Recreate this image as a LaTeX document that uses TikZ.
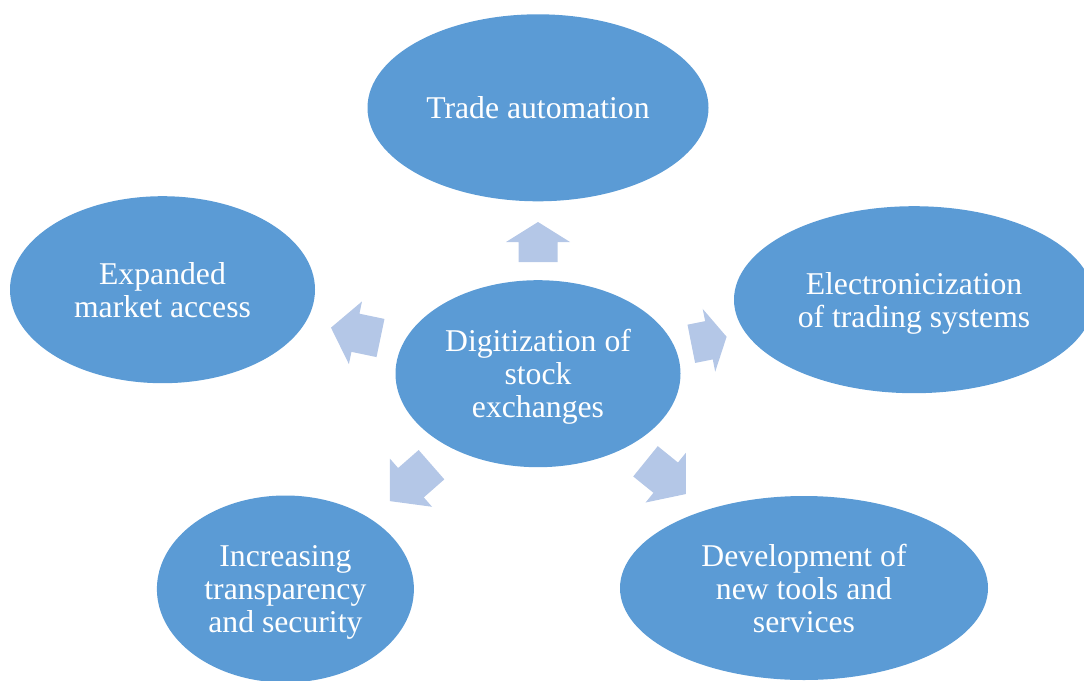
\documentclass[tikz,border=0pt]{standalone}
\usepackage{fontspec}
\setmainfont{Liberation Serif}
\usepackage{xcolor}
\usetikzlibrary{shapes.geometric}
\definecolor{bubble}{HTML}{5B9BD5}
\definecolor{pointer}{HTML}{B4C7E7}

\begin{document}
\begin{tikzpicture}[x=1pt, y=-1pt,
	every node/.style = {ellipse, fill=bubble, text=white, align=center, inner sep=0pt, minimum height=187pt, font=\fontsize{31.7}{33}\selectfont},
	pointer/.style = {fill=pointer}]
		\useasboundingbox (0,0) rectangle (1084,680);
		\clip (0,0) rectangle (1084,680);
		\node[minimum width=285pt] (dig) at (538,373.7) {Digitization of\\stock\\\smash{exchanges}};
		\node[minimum width=341pt] (trade) at (538,107.8) {Trade automation};
		\node[minimum width=305pt] (market) at (162.5,289.7) {Expanded\\market access};
		\node[minimum width=360pt] (elec) at (914,299.7) {Electronicization\\\smash{of trading systems}};
		\node[minimum width=257pt] (transp) at (285.4,589) {Increasing\\transparency\\\smash{and security}};
		\node[minimum width=368pt, minimum height=184pt] (tools) at (804,588) {Development of\\new tools and\\services};
		
		\coordinate (a) at (538,262);
		\coordinate (b) at (380.5,338);
		\coordinate (c) at (691.3,343.8);
		\coordinate (d) at (431.5,464.7);
		\coordinate (e) at (645.5,461.3);
		\fill[pointer, shift={(a)}, rotate=90] (0,-19.5) -- (20,-19.5) -- (20,-32) -- (40,0) -- (20,32) -- (20,19.5) -- (0,19.5) -- cycle;
		\fill[pointer, shift={(b)}, rotate=168.2] (0,-19.5) -- (25.6,-19.5) -- (25.6,-32) -- (50.6,0) -- (25.6,32) -- (25.6,19.5) -- (0,19.5) -- cycle;
		\fill[pointer, shift={(c)}, rotate=11.3] (0,-19.5) -- (18,-19.5) -- (18,-32) -- (36,0) -- (18,32) -- (18,19.5) -- (0,19.5) -- cycle;
		\fill[pointer, shift={(d)}, rotate=221.2] (0,-19.5) -- (27.3,-19.5) -- (27.3,-32) -- (55.3,0) -- (27.3,32) -- (27.3,19.5) -- (0,19.5) -- cycle;
		\fill[pointer, shift={(e)}, rotate=-39] (0,-19.5) -- (26,-19.5) -- (26,-32) -- (52,0) -- (26,32) -- (26,19.5) -- (0,19.5) -- cycle;
		
		\end{tikzpicture}
\end{document}
